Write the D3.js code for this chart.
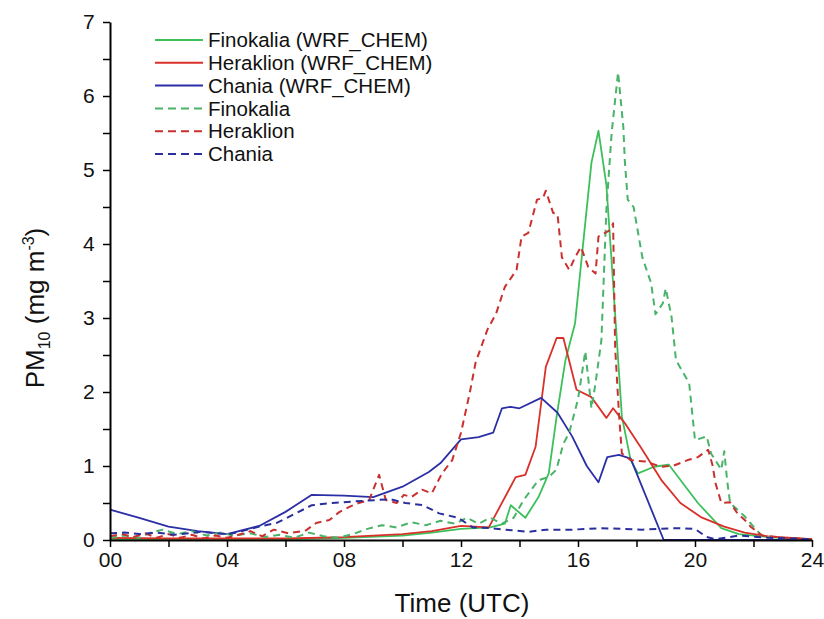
<!DOCTYPE html>
<html><head><meta charset="utf-8">
<script src="https://cdn.jsdelivr.net/npm/d3@7"></script>
<style>body{margin:0;background:#fff}svg{display:block}text{font-family:"Liberation Sans",Arial,sans-serif}</style>
</head><body><svg id="c" width="824" height="619"></svg>
<script>
// [hour, PM10 mg m-3]
const finokaliaWrf = [[0,0.01],[2,0.01],[4,0.01],[6,0.01],[8,0.03],[10,0.06],[11,0.1],[12,0.15],[12.5,0.16],[13,0.17],[13.5,0.22],[13.7,0.47],[14.2,0.3],[14.65,0.58],[15.0,0.9],[15.27,1.67],[15.57,2.43],[15.9,2.93],[16.2,4.1],[16.46,5.1],[16.7,5.53],[16.97,4.8],[17.2,3.47],[17.5,1.67],[17.8,1.08],[18.05,0.9],[18.6,0.99],[19.1,1.02],[20.1,0.5],[20.9,0.16],[21.5,0.08],[22.5,0.04],[24,0.01]];
const heraklionWrf = [[0,0.03],[2,0.02],[4,0.02],[6,0.02],[8,0.04],[10,0.08],[11,0.12],[12,0.19],[12.95,0.17],[13.87,0.85],[14.2,0.88],[14.55,1.26],[14.9,2.34],[15.27,2.73],[15.5,2.73],[15.95,2.03],[16.46,1.93],[16.97,1.65],[17.2,1.78],[17.6,1.58],[18.2,1.22],[18.85,0.81],[19.5,0.5],[20.2,0.31],[21.0,0.18],[21.7,0.1],[22.5,0.05],[24,0.01]];
const chaniaWrf = [[0,0.41],[1,0.3],[2,0.18],[3,0.12],[4,0.08],[5.1,0.19],[6,0.38],[6.9,0.61],[8,0.6],[9,0.58],[10,0.72],[10.9,0.92],[11.3,1.04],[12,1.36],[12.6,1.39],[13.1,1.45],[13.4,1.78],[13.7,1.8],[14,1.78],[14.74,1.92],[15.3,1.72],[15.8,1.4],[16.3,1.0],[16.7,0.78],[17.0,1.12],[17.4,1.15],[17.8,1.1],[18.93,0],[24,0]];
const finokaliaObs = [[0,0.03],[0.5,0.06],[1,0.03],[1.4,0.1],[1.8,0.14],[2.3,0.08],[2.8,0.12],[3.3,0.06],[3.8,0.1],[4.2,0.06],[4.8,0.09],[5.3,0.04],[5.8,0.07],[6.3,0.03],[6.8,0.1],[7.3,0.05],[7.8,0.03],[8.3,0.08],[8.8,0.15],[9.3,0.2],[9.8,0.17],[10.3,0.24],[10.8,0.2],[11.3,0.26],[11.8,0.22],[12.2,0.3],[12.6,0.22],[13.0,0.3],[13.4,0.22],[13.8,0.3],[14.14,0.54],[14.65,0.81],[15.0,0.85],[15.26,0.95],[15.5,1.3],[15.7,1.45],[16.0,1.9],[16.25,2.55],[16.46,1.78],[16.6,2.12],[16.8,2.7],[16.97,4.46],[17.15,5.5],[17.37,6.32],[17.55,5.58],[17.6,5.13],[17.7,4.6],[17.9,4.5],[18.2,3.82],[18.5,3.47],[18.65,3.05],[18.9,3.2],[19.0,3.4],[19.2,3.01],[19.35,2.43],[19.8,2.12],[20.0,1.35],[20.4,1.4],[20.55,1.17],[20.9,0.95],[21.0,1.2],[21.1,0.8],[21.2,0.5],[21.7,0.32],[22.0,0.18],[22.3,0.05],[23,0.02],[24,0.01]];
const heraklionObs = [[0,0.05],[0.4,0.08],[0.8,0.04],[1.2,0.09],[1.6,0.03],[2.0,0.08],[2.4,0.03],[2.8,0.07],[3.2,0.02],[3.6,0.06],[4.0,0.03],[4.4,0.07],[4.8,0.12],[5.2,0.05],[5.6,0.14],[6.1,0.09],[6.7,0.13],[7.05,0.23],[7.5,0.27],[7.85,0.38],[8.2,0.45],[8.5,0.5],[8.86,0.54],[9.2,0.88],[9.43,0.54],[9.8,0.5],[10.05,0.61],[10.3,0.58],[10.67,0.68],[11.0,0.63],[11.35,0.9],[11.7,1.08],[12.0,1.45],[12.3,1.99],[12.5,2.4],[12.9,2.84],[13.2,3.06],[13.5,3.42],[13.9,3.65],[14.07,4.1],[14.3,4.15],[14.6,4.6],[14.8,4.62],[14.9,4.72],[15.15,4.42],[15.3,4.4],[15.45,3.82],[15.7,3.65],[15.9,3.82],[16.1,3.96],[16.35,3.69],[16.6,3.6],[16.7,4.1],[17.1,4.19],[17.2,4.28],[17.27,2.6],[17.4,1.71],[17.5,1.17],[17.8,1.08],[18.3,1.06],[18.85,0.99],[19.3,1.01],[19.75,1.08],[20.1,1.12],[20.45,1.22],[20.6,1.01],[20.7,0.77],[20.9,0.5],[21.2,0.51],[21.45,0.36],[21.7,0.27],[21.9,0.18],[22.3,0.06],[23,0.03],[24,0.01]];
const chaniaObs = [[0,0.09],[0.5,0.1],[1,0.08],[1.6,0.1],[2.2,0.07],[3.1,0.11],[3.6,0.09],[4.1,0.08],[4.7,0.14],[5.2,0.19],[5.7,0.23],[6.35,0.36],[6.9,0.47],[7.6,0.5],[8.3,0.52],[9.1,0.54],[9.6,0.55],[10.1,0.5],[10.7,0.47],[11.25,0.36],[11.9,0.3],[12.4,0.17],[13,0.16],[14.3,0.11],[14.9,0.14],[15.8,0.14],[16.8,0.16],[18.2,0.14],[19.4,0.16],[20.0,0.15],[20.4,0.04],[20.7,0.01],[21.5,0.06],[22.5,0.03],[24,0.01]];

const xTicks = [0,2,4,6,8,10,12,14,16,18,20,22,24];
const xLabels = ["00","","04","","08","","12","","16","","20","","24"];
const yTicks = [0,0.5,1,1.5,2,2.5,3,3.5,4,4.5,5,5.5,6,6.5,7];
const yLabels = ["0","","1","","2","","3","","4","","5","","6","","7"];

const seriesNames = ["Finokalia (WRF_CHEM)","Heraklion (WRF_CHEM)","Chania (WRF_CHEM)","Finokalia","Heraklion","Chania"];
const seriesData = [finokaliaWrf, heraklionWrf, chaniaWrf, finokaliaObs, heraklionObs, chaniaObs];
const seriesColors = ["#3cc05c","#d9302a","#2b2fa6","#4ab36a","#c9302e","#2a2f9c"];
const seriesDashed = [false,false,false,true,true,true];

const svg = d3.select("#c");
const m = {l:110, r:12, t:22, b:79};
const W = 824, H = 619;
const x = d3.scaleLinear().domain([0,24]).range([m.l, W-m.r]);
const y = d3.scaleLinear().domain([0,7]).range([H-m.b, m.t]);

const line = d3.line().x(d=>x(d[0])).y(d=>y(d[1]));
const plot = svg.append("g");
seriesData.forEach((d,i)=>{
  plot.append("path").attr("d", line(d)).attr("fill","none")
    .attr("stroke", seriesColors[i])
    .attr("stroke-width", seriesDashed[i] ? 2 : 1.8)
    .attr("stroke-dasharray", seriesDashed[i] ? "7,5" : null)
    .attr("stroke-linejoin","round");
});

const xa = svg.append("g").attr("transform",`translate(0,${H-m.b})`)
  .call(d3.axisBottom(x).tickValues(xTicks).tickSize(7).tickSizeOuter(0)
    .tickFormat((d,i)=>xLabels[i]));
const ya = svg.append("g").attr("transform",`translate(${m.l},0)`)
  .call(d3.axisLeft(y).tickValues(yTicks).tickSize(7).tickSizeOuter(0)
    .tickFormat((d,i)=>yLabels[i]));
[xa,ya].forEach(a=>{
  a.select(".domain").attr("stroke","#000").attr("stroke-width",2);
  a.selectAll(".tick line").attr("stroke","#000").attr("stroke-width",1.5);
  a.selectAll(".tick text").attr("fill","#111").style("font-size","21px");
});
xa.selectAll(".tick text").attr("y",12);
ya.selectAll(".tick text").attr("dx","-0.25em");

// axis titles
svg.append("text").attr("x", 462).attr("y", 612).attr("text-anchor","middle")
  .style("font-size","26px").attr("fill","#111").text("Time (UTC)");
const yt = svg.append("text").attr("transform","translate(44,308) rotate(-90)")
  .attr("text-anchor","middle").style("font-size","26px").attr("fill","#111");
yt.append("tspan").text("PM");
yt.append("tspan").attr("dy","6").style("font-size","16px").text("10");
yt.append("tspan").attr("dy","-6").text(" (mg m");
yt.append("tspan").attr("dy","-10").style("font-size","16px").text("-3");
yt.append("tspan").attr("dy","10").text(")");

// legend
const lg = svg.append("g");
seriesNames.forEach((n,i)=>{
  const yy = 40 + i*22.8;
  lg.append("line").attr("x1",155).attr("x2",203).attr("y1",yy).attr("y2",yy)
    .attr("stroke",seriesColors[i]).attr("stroke-width",2)
    .attr("stroke-dasharray", seriesDashed[i] ? "8,5" : null);
  lg.append("text").attr("x",208).attr("y",yy).attr("dy","0.35em")
    .style("font-size","20.5px").attr("fill","#111").text(n);
});
</script></body></html>
